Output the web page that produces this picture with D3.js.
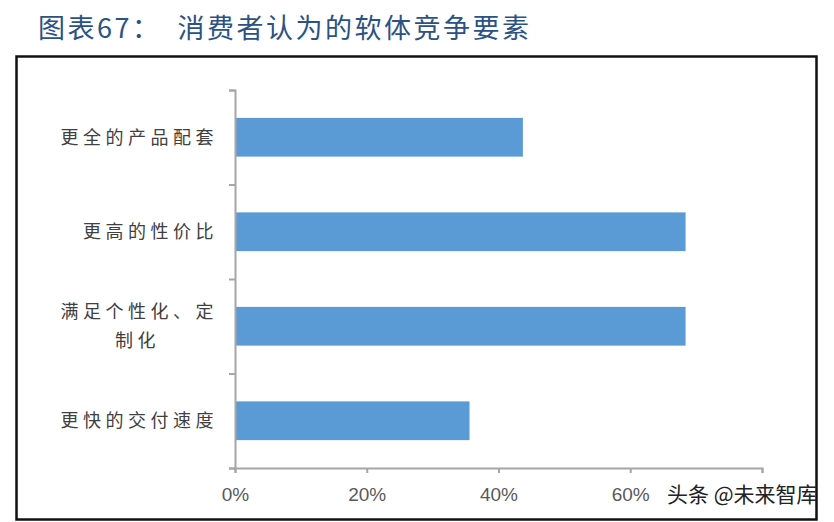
<!DOCTYPE html>
<html>
<head>
<meta charset="utf-8">
<script src="https://cdn.jsdelivr.net/npm/d3@7"></script>
<style>
  body { margin: 0; background: #fff; }
  svg text { font-family: "Noto Sans CJK SC", sans-serif; }
</style>
</head>
<body>
<div id="chart"></div>
<script>
const titleText = "图表67：　消费者认为的软体竞争要素";
const categories = ["更全的产品配套", "更高的性价比", "满足个性化、定制化", "更快的交付速度"];
const labelLines = [["更全的产品配套"], ["更高的性价比"], ["满足个性化、定", "制化"], ["更快的交付速度"]];
const values = [0.437, 0.684, 0.684, 0.356];
const tickValues = [0, 0.2, 0.4, 0.6, 0.8];
const watermark = "头条 @未来智库";

const width = 834, height = 522;
const plot = {left: 235, right: 762, top: 90, bottom: 468};

const svg = d3.select("#chart").append("svg")
    .attr("width", width)
    .attr("height", height);

// title
svg.append("text")
    .attr("x", 38)
    .attr("y", 38)
    .style("font-size", "27px")
    .style("fill", "#2b5284")
    .style("letter-spacing", "2.5px")
    .text(titleText);

// frame
svg.append("rect")
    .attr("x", 16.5)
    .attr("y", 56.5)
    .attr("width", 800)
    .attr("height", 463)
    .attr("fill", "none")
    .attr("stroke", "#111")
    .attr("stroke-width", 2.5);

const x = d3.scaleLinear()
    .domain([0, 0.8])
    .range([plot.left, plot.right]);

const y = d3.scaleBand()
    .domain(categories)
    .range([plot.top, plot.bottom])
    .paddingInner(0.59)
    .paddingOuter(0.295);

// bars
svg.selectAll(".bar")
    .data(categories)
    .enter().append("rect")
    .attr("class", "bar")
    .attr("x", x(0))
    .attr("y", d => y(d))
    .attr("width", (d, i) => x(values[i]) - x(0))
    .attr("height", y.bandwidth())
    .attr("fill", "#5b9bd5");

// x axis
const xAxis = svg.append("g")
    .attr("transform", "translate(0," + plot.bottom + ")")
    .call(d3.axisBottom(x)
        .tickValues(tickValues)
        .tickSize(5)
        .tickPadding(15)
        .tickFormat(d => d === 0.8 ? "" : d3.format(".0%")(d)));
xAxis.select(".domain").attr("stroke", "#a6a6a6").attr("stroke-width", 2);
xAxis.selectAll(".tick line").attr("stroke", "#a6a6a6").attr("stroke-width", 2);
xAxis.selectAll(".tick text")
    .style("font-family", "'Liberation Sans Narrow', 'Arial Narrow', sans-serif")
    .style("font-size", "19px")
    .attr("fill", "#595959");

// y axis with ticks between categories
const yEdges = d3.scaleLinear()
    .domain([0, categories.length])
    .range([plot.top, plot.bottom]);
const yAxis = svg.append("g")
    .attr("transform", "translate(" + plot.left + ",0)")
    .call(d3.axisLeft(yEdges)
        .ticks(categories.length)
        .tickSize(6)
        .tickSizeOuter(6)
        .tickFormat(""));
yAxis.select(".domain").attr("stroke", "#a6a6a6").attr("stroke-width", 2);
yAxis.selectAll(".tick line").attr("stroke", "#a6a6a6").attr("stroke-width", 2);

// category labels
const labels = svg.selectAll(".cat")
    .data(categories)
    .enter().append("text")
    .attr("class", "cat")
    .attr("y", d => y(d) + y.bandwidth() / 2)
    .style("font-size", "18px")
    .style("letter-spacing", "4.5px")
    .attr("fill", "#404040");

labels.each(function(d, i) {
    const lines = labelLines[i];
    const t = d3.select(this);
    lines.forEach((line, j) => {
        t.append("tspan")
            .attr("x", j === 0 ? 218 : 218 - 58)
            .attr("text-anchor", "end")
            .attr("dy", j === 0 ? (0.35 - (lines.length - 1) * 0.8) + "em" : "1.6em")
            .text(line);
    });
});

// watermark
svg.append("text")
    .attr("x", 667)
    .attr("y", 502)
    .style("font-size", "21px")
    .attr("fill", "#222")
    .text(watermark);
</script>
</body>
</html>
